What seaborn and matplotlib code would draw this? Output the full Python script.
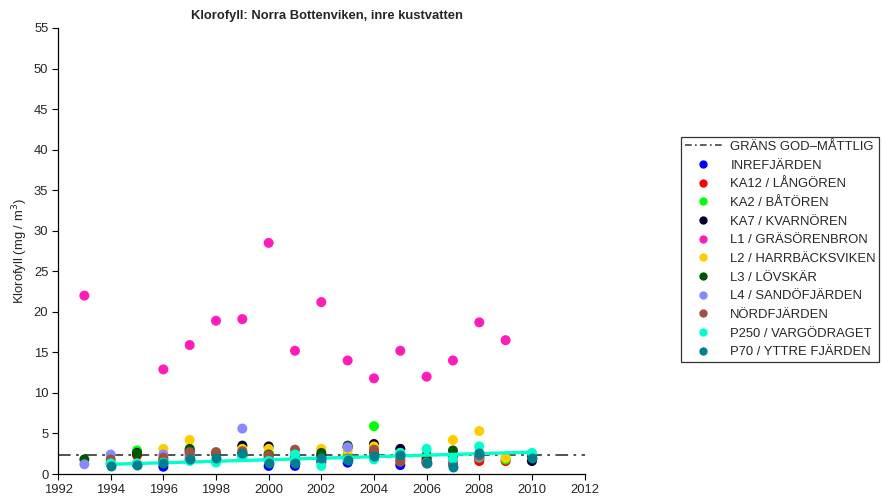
import numpy as np
import pandas as pd
import matplotlib
matplotlib.use("Agg")
import matplotlib.pyplot as plt
import seaborn as sns
from matplotlib.lines import Line2D

years = list(range(1993, 2011))
nan = np.nan

stations = ["INREFJÄRDEN", "KA12 / LÅNGÖREN", "KA2 / BÅTÖREN", "KA7 / KVARNÖREN",
            "L1 / GRÄSÖRENBRON", "L2 / HARRBÄCKSVIKEN", "L3 / LÖVSKÄR",
            "L4 / SANDÖFJÄRDEN", "NÖRDFJÄRDEN", "P250 / VARGÖDRAGET", "P70 / YTTRE FJÄRDEN"]
colors = ["#0000FF", "#FF0000", "#00FF00", "#000033", "#FF1DB9", "#FFCC00",
          "#005500", "#8888FF", "#A0523F", "#00FFCC", "#00808F"]

#            1993 1994 1995 1996 1997 1998 1999 2000 2001 2002 2003 2004 2005 2006 2007 2008 2009 2010
inref   = [nan, 1.3, 1.2, 0.9, 1.8, nan, 2.3, 1.0, 1.0, 1.5, 1.4, 2.0, 1.1, 1.5, 1.3, 1.9, nan, nan]
ka12    = [nan, nan, 2.3, 1.4, 2.2, nan, 2.3, 2.0, 1.7, 2.0, 2.1, 2.6, 1.8, 1.6, 1.6, 1.6, 1.6, nan]
ka2     = [nan, nan, 2.9, 1.5, 2.6, nan, 2.1, 2.6, 1.9, 2.2, 2.4, 5.9, 2.5, 1.7, 1.9, 2.0, 1.8, 2.4]
ka7     = [nan, nan, 2.6, nan, 2.9, nan, 3.5, 3.4, 2.0, 2.3, 3.3, 3.7, 3.1, 2.3, 2.2, 2.2, nan, 1.6]
l1      = [22.0, nan, nan, 12.9, 15.9, 18.9, 19.1, 28.5, 15.2, 21.2, 14.0, 11.8, 15.2, 12.0, 14.0, 18.7, 16.5, nan]
l2      = [nan, nan, nan, 3.1, 4.2, nan, 3.1, 3.1, 2.3, 3.1, 2.9, 3.4, 2.6, 2.0, 4.2, 5.3, 2.0, nan]
l3      = [1.8, nan, 2.5, 1.7, 3.1, 2.5, 2.6, 2.4, 2.3, 2.6, 3.5, 2.5, 2.2, 1.9, 2.9, 2.5, nan, 2.2]
l4      = [1.2, 2.4, 1.3, 2.4, 2.4, nan, 5.6, 2.0, 1.6, 1.8, 3.3, 2.2, 2.0, 1.4, 1.4, 2.1, nan, nan]
nord    = [nan, 1.8, 1.2, 2.0, 2.7, 2.7, 2.8, 2.3, 3.0, 1.8, 1.9, 3.0, 1.5, 1.3, 1.2, 2.3, nan, nan]
p250    = [nan, 1.3, 1.3, 1.4, 1.6, 1.4, 2.2, 1.6, 2.4, 1.0, 1.8, 1.8, 2.6, 3.1, 1.9, 3.4, nan, 2.6]
p70     = [nan, 1.0, 1.1, 1.3, 1.8, 2.0, 2.6, 1.4, 1.4, 2.0, 1.7, 2.2, 2.3, 1.3, 0.9, 2.6, nan, 2.0]

series = [inref, ka12, ka2, ka7, l1, l2, l3, l4, nord, p250, p70]

limit_label = "GRÄNS GOD\u2013MÅTTLIG"
limit_value = 2.4
trend_years = [1994, 2010]
trend_vals = [1.2, 2.7]

rows = []
for name, vals in zip(stations, series):
    for yr, v in zip(years, vals):
        if not np.isnan(v):
            rows.append({"year": yr, "value": v, "station": name})
df = pd.DataFrame(rows)
trend_df = pd.DataFrame({"year": trend_years, "value": trend_vals})

sns.set_style("ticks")
plt.rcParams['font.family'] = ['Liberation Sans', 'DejaVu Sans']

FS = 9.4
fig = plt.figure(figsize=(8.82, 5.04), dpi=100)
ax = fig.add_axes([0.0658, 0.0595, 0.597, 0.885])

palette = dict(zip(stations, colors))
first = df[df["station"] != stations[-1]]
last = df[df["station"] == stations[-1]]
sns.scatterplot(data=first, x="year", y="value", hue="station", palette=palette,
                hue_order=stations[:-1], s=52, linewidth=0, legend=False, ax=ax, zorder=2)
ax.axhline(limit_value, color="#444444", lw=1.3, ls=(0, (7, 3, 1.5, 3)), zorder=1)
sns.lineplot(data=trend_df, x="year", y="value", color="#00FFCC", lw=2.4, ax=ax, zorder=3)
sns.scatterplot(data=last, x="year", y="value", color=colors[-1], s=52, linewidth=0,
                legend=False, ax=ax, zorder=4)

ax.set_xlim(1992, 2012)
ax.set_ylim(0, 55)
ax.set_xticks(range(1992, 2013, 2))
ax.set_yticks(range(0, 56, 5))
ax.tick_params(labelsize=FS, length=4, width=0.8, color="black", pad=3)
for s in ["top", "right"]:
    ax.spines[s].set_visible(False)
for s in ["left", "bottom"]:
    ax.spines[s].set_color("black")
    ax.spines[s].set_linewidth(0.9)
ax.set_xlabel("")
ax.set_ylabel("Klorofyll (mg / m$^3$)", fontsize=FS, labelpad=3)
fig.text(0.371, 0.968, "Klorofyll: Norra Bottenviken, inre kustvatten",
         ha="center", va="center", fontsize=FS, fontweight="bold")

handles = [Line2D([0], [0], color="#444444", lw=1.2, ls=(0, (4, 2, 1, 2)))]
handles += [Line2D([0], [0], marker="o", ls="", color=c, markersize=6, markeredgewidth=0)
            for c in colors]
labels = [limit_label] + stations
leg = fig.legend(handles, labels, loc="upper left", bbox_to_anchor=(0.772, 0.728),
                 fontsize=FS, frameon=True, fancybox=False, edgecolor="black",
                 handlelength=2.9, labelspacing=0.5, borderpad=0.28, handletextpad=0.6,
                 borderaxespad=0)
leg.get_frame().set_linewidth(0.9)

fig.savefig("out.png", dpi=100)
